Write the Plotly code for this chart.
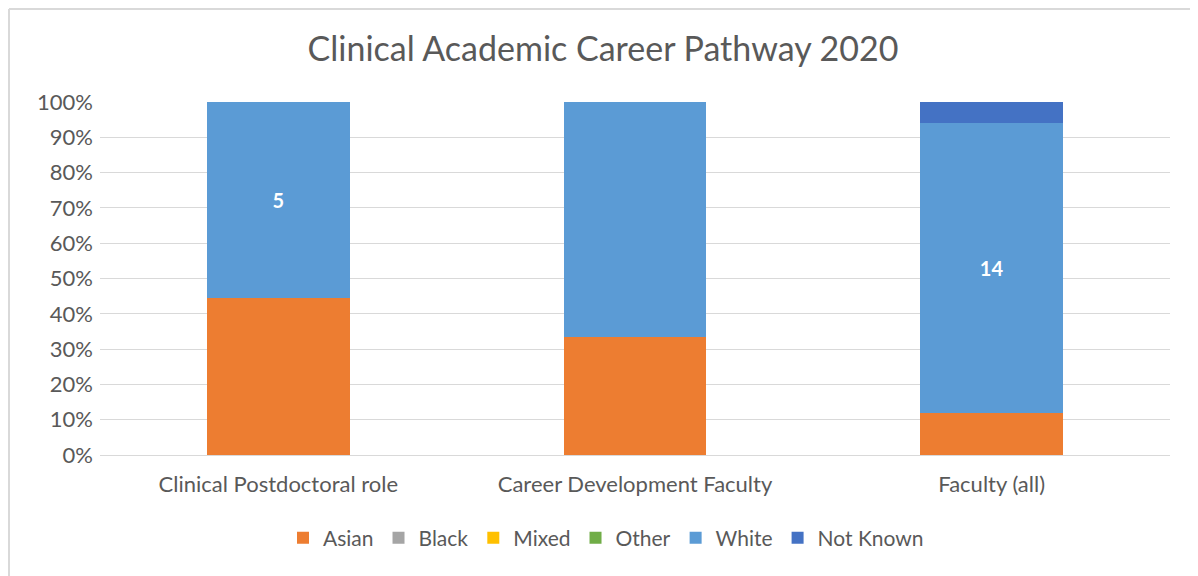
import plotly.graph_objects as go

categories = ["Clinical Postdoctoral role", "Career Development Faculty", "Faculty (all)"]
series_names = ["Asian", "Black", "Mixed", "Other", "White", "Not Known"]
asian = [4, 1, 2]
black = [0, 0, 0]
mixed = [0, 0, 0]
other = [0, 0, 0]
white = [5, 2, 14]
not_known = [0, 0, 1]
white_labels = ["5", "", "14"]
colors = ["#ED7D31", "#A5A5A5", "#FFC000", "#70AD47", "#5B9BD5", "#4472C4"]
y_ticks = [0, 10, 20, 30, 40, 50, 60, 70, 80, 90, 100]
y_tick_text = [f"{v}%" for v in y_ticks]

FONT = "Lato"
values = [asian, black, mixed, other, white, not_known]
fig = go.Figure()
for name, vals, col in zip(series_names, values, colors):
    kw = {}
    if name == "White":
        kw = dict(text=white_labels, textposition="inside", insidetextanchor="middle",
                  texttemplate="<b>%{text}</b>",
                  textfont=dict(color="white", size=20, family=FONT))
    else:
        kw = dict(textposition="none")
    fig.add_trace(go.Bar(x=categories, y=vals, name=name,
                         marker=dict(color=col, line=dict(width=0)), **kw))

# page body has an 8px offset in the browser
W, H = 1190, 568
ml, mr, mt, mb = 92, 28, 94, 121
pw, ph = W - ml - mr, H - mt - mb
fig.update_layout(
    width=W, height=H, barmode="stack", barnorm="percent", bargap=0.6,
    paper_bgcolor="white", plot_bgcolor="white",
    margin=dict(l=ml, r=mr, t=mt, b=mb, autoexpand=False),
    font=dict(family=FONT, color="#595959", size=22),
    title=dict(text="Clinical Academic Career Pathway 2020", x=0.5, xanchor="center",
               y=1 - 41 / H, yanchor="middle",
               font=dict(size=34, color="#595959", family=FONT)),
    legend=dict(orientation="h", x=(606 - 100) / pw, xanchor="center",
                y=-(538 - 447 - 8) / ph,
                yanchor="middle", font=dict(size=21, family=FONT),
                traceorder="normal", itemwidth=30),
    showlegend=True,
    yaxis=dict(range=[0, 100], tickmode="array", tickvals=y_ticks, ticktext=y_tick_text,
               gridcolor="#d9d9d9", gridwidth=1, zeroline=False, showline=False,
               ticks="", ticklabelstandoff=6,
               tickfont=dict(size=22, family=FONT, color="#595959")),
    xaxis=dict(showline=True, linecolor="#d9d9d9", linewidth=1, ticks="",
               ticklabelstandoff=10,
               tickfont=dict(size=22, family=FONT, color="#595959")),
)
fig.add_shape(type="line", xref="paper", yref="paper",
              x0=-(ml - 1) / pw, x1=-(ml - 1) / pw, y0=-mb / ph, y1=1 + (mt - 1) / ph,
              line=dict(color="#d9d9d9", width=2))
fig.add_shape(type="line", xref="paper", yref="paper",
              x0=-(ml - 1) / pw, x1=1 + mr / pw, y0=1 + (mt - 1) / ph, y1=1 + (mt - 1) / ph,
              line=dict(color="#d9d9d9", width=2))
fig.write_html("out.html")
